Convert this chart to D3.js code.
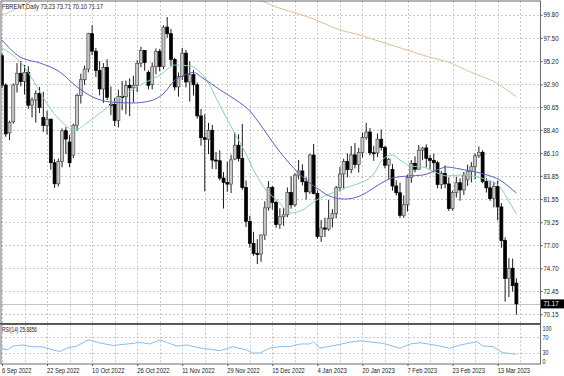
<!DOCTYPE html>
<html><head><meta charset="utf-8">
<script src="https://cdn.jsdelivr.net/npm/d3@7"></script>
<style>
html,body{margin:0;padding:0;background:#fff;}
svg{display:block;}
text{font-family:Tahoma,"Liberation Sans","DejaVu Sans",Arial,sans-serif;}
</style></head><body>
<svg id="c" width="564" height="376"></svg>
<script>
// ---------------- data ----------------
const symbolName = "FBRENT,Daily";
const lastQuote = ["73.23", "73.71", "70.10", "71.17"];
const lastPrice = 71.17;
const rsiTitle = "RSI(14) 25.8856";

const opens = [95.74,92.83,88.10,89.20,92.90,94.00,93.20,94.10,90.84,91.35,92.00,89.62,88.83,89.46,85.15,83.06,85.27,88.32,87.20,85.90,
88.86,91.80,93.37,94.42,97.92,96.19,94.29,92.45,94.57,90.93,90.92,89.33,91.71,91.68,92.80,92.56,92.82,94.99,96.26,94.10,
92.90,94.65,96.16,94.67,98.57,97.92,95.36,92.65,93.67,95.99,93.14,93.86,92.86,89.78,87.62,87.45,88.36,85.41,85.34,83.63,
83.19,83.03,85.50,86.88,85.57,82.68,79.35,77.17,76.15,76.10,77.99,80.68,82.70,81.21,79.04,79.80,79.99,82.20,80.98,83.92,
84.33,83.26,82.26,85.91,82.10,77.84,78.69,78.57,79.65,80.10,82.67,84.03,85.28,84.46,85.92,84.98,86.16,87.63,88.19,86.13,
86.12,87.47,86.66,84.90,84.49,82.84,82.17,79.94,80.99,83.69,85.09,84.50,86.39,86.61,85.58,85.38,85.14,83.00,84.07,83.05,
80.60,82.21,83.16,82.45,83.45,84.31,84.75,85.83,86.18,83.29,82.66,81.59,82.78,80.77,77.45,73.69,74.70,73.23];
const highs = [95.97,93.00,89.30,93.00,95.00,95.21,94.83,94.70,91.61,92.30,92.65,92.17,90.28,89.50,85.50,85.55,88.54,88.67,87.90,89.00,
91.99,93.96,94.76,98.01,98.75,96.50,95.20,95.00,95.38,92.71,91.58,92.39,93.23,93.28,93.49,93.76,95.32,96.63,96.30,94.30,
95.08,96.45,96.41,98.75,99.56,98.40,95.53,94.08,96.51,96.31,95.20,94.32,93.10,90.46,89.95,89.10,88.90,86.20,86.37,84.22,
85.25,85.95,88.14,87.97,88.98,83.37,79.90,78.31,77.58,78.04,81.34,83.32,82.85,81.38,80.63,80.67,82.69,83.80,84.10,85.42,
84.99,83.70,86.03,87.00,82.40,79.47,79.70,81.47,80.55,82.86,84.74,85.55,86.07,86.80,87.10,86.63,88.14,89.09,88.58,86.82,
88.04,88.44,86.83,85.62,85.00,83.40,83.17,81.92,83.96,85.40,85.78,86.90,86.71,86.97,85.91,86.03,85.33,84.32,84.89,83.70,
82.38,83.76,83.60,84.23,84.95,85.20,86.06,86.75,86.38,83.62,83.37,83.26,83.37,81.15,77.75,75.70,75.65,73.71];
const lows = [92.53,87.71,87.37,89.01,92.09,92.70,91.90,90.48,89.64,89.12,90.06,88.20,87.93,84.45,82.65,82.80,84.70,86.00,84.70,85.60,
88.32,91.00,92.86,94.10,95.80,93.63,91.82,91.07,91.35,89.85,88.78,88.65,90.35,89.94,89.75,91.11,92.13,94.61,94.25,92.40,
92.40,93.91,94.19,94.41,97.50,94.73,92.29,91.69,93.33,92.60,91.20,91.80,89.51,86.84,82.31,86.00,84.53,84.50,83.40,80.61,
82.27,82.15,85.40,85.26,82.46,78.78,76.72,75.93,75.11,75.34,77.50,80.40,80.50,78.70,78.60,78.90,79.75,80.60,80.80,83.50,
82.90,81.50,82.06,82.00,77.61,77.31,77.80,78.40,78.75,79.65,82.30,82.51,83.70,84.10,84.58,84.17,85.67,87.42,85.88,85.33,
85.70,86.35,84.59,83.51,82.38,81.90,79.66,79.69,80.32,83.16,84.20,84.49,85.40,84.67,84.50,84.18,82.61,82.55,82.62,80.37,
80.40,81.70,81.39,81.96,82.85,83.19,83.50,85.63,83.11,82.19,81.37,80.72,79.43,76.73,71.40,71.84,72.38,70.10];
const closes = [92.83,88.00,89.15,92.84,94.00,93.17,94.10,90.84,91.35,92.00,90.62,88.83,89.46,85.15,83.06,85.27,88.32,87.49,85.14,88.86,
91.80,93.37,94.42,97.92,96.19,94.29,92.45,94.57,91.63,90.92,89.33,91.71,91.68,92.80,92.56,92.82,94.99,96.26,95.07,92.81,
94.65,96.16,94.67,98.57,97.92,95.36,92.65,93.67,95.99,93.14,93.86,92.86,89.78,87.62,87.45,88.36,85.41,85.34,83.63,83.19,
83.03,85.43,86.88,85.57,82.68,79.35,77.17,76.15,76.10,77.99,80.68,82.70,81.21,79.04,79.80,79.99,82.20,80.98,83.92,84.33,
83.26,82.26,85.91,82.10,77.84,78.69,78.57,79.65,80.10,82.67,84.03,85.28,84.46,85.92,84.98,86.16,87.63,88.19,86.13,86.12,
87.47,86.66,84.90,85.46,82.84,82.17,79.94,80.99,83.69,85.09,84.50,86.39,86.61,85.58,85.38,85.14,83.00,84.07,83.05,80.60,
82.21,83.16,82.45,83.89,84.31,84.75,85.83,86.18,83.29,82.66,81.59,82.78,80.77,77.45,73.69,74.70,72.97,71.17];

const dateLabels = ["6 Sep 2022","22 Sep 2022","10 Oct 2022","26 Oct 2022","11 Nov 2022","29 Nov 2022",
  "15 Dec 2022","4 Jan 2023","20 Jan 2023","7 Feb 2023","23 Feb 2023","13 Mar 2023"];
const priceTicks = [99.80,97.50,95.20,92.90,90.65,88.40,86.10,83.85,81.55,79.25,77.00,74.70,72.45,70.15];
const rsiTicks = [100,70,30,0];
const rsiLevels = [70,30];

// moving averages: [bar, value]
const maFast = [[0,96.5],[3.5,95.6],[5.6,94.8],[8.3,93.3],[10.9,91.65],[12.8,90.56],[16.2,89.07],[19.4,88.38],[22.6,89.07],
 [26.1,90.07],[30.6,91.35],[36.8,92.84],[42.1,93.83],[46.1,94.82],[50.1,94.72],[52.7,94.13],[55.4,92.74],[58.1,90.76],
 [61.5,88.39],[64.7,86.21],[67.4,84.13],[70.3,82.44],[73.5,81.35],[76.7,80.17],[79.4,80.36],[84.2,81.55],[87.9,82.14],
 [91.3,82.64],[95.3,83.14],[98.8,83.93],[101.5,85.51],[103.9,85.91],[106,85.41],[108.7,84.82],[112.1,84.72],[114.8,84.32],
 [118.5,83.83],[122,83.93],[125.4,83.83],[129.2,83.43],[132.6,82.74],[135.3,81.15],[137,80.07]];
const maSlow = [[0,97.29],[4.8,95.61],[10.1,95.02],[15.4,94.13],[20,92.64],[24.2,91.65],[28.8,91.16],[34.9,91.06],
 [39.4,91.26],[42.9,91.95],[46.1,93.33],[48.7,93.83],[50.9,94.08],[53.5,93.53],[58.1,92.35],[62.3,91.35],[66,90.27],
 [69.8,88.39],[73.2,86.6],[76.7,85.02],[80.7,83.53],[84.2,82.54],[87.9,81.75],[91.3,81.55],[95.3,81.85],[98.8,82.6],
 [102,83.33],[103.9,83.63],[108.1,83.83],[112.1,83.93],[115.8,84.42],[118.5,84.72],[122,84.52],[125.4,84.28],
 [129.2,83.93],[132.6,83.43],[134.8,82.84],[137,82.14]];
const ma200 = [[0,99.75],[3.5,100.33],[7,101.0],[10,101.5],[25,102.1],[40,102.2],[55,101.9],[65,101.4],[69.5,101.09],
 [74,100.43],[78.6,99.94],[84.7,99.11],[90,98.29],[95.3,97.79],[98,97.46],[100.7,97.13],[107.9,96.3],[114,95.58],
 [118.5,95.15],[124.6,94.16],[131.8,93.01],[137,91.68]];
const rsiValues = [[0,42],[1.3,37],[2.9,47.5],[5.6,50],[7.5,46],[10.9,45],[13.6,37],[15.4,33],[17.3,42],[20,47.5],
 [22.6,61.7],[23.4,63],[26.1,55.3],[29.6,48.8],[33.3,52.7],[36.8,56.5],[39.4,52.7],[42.1,63],[44,56.5],[46.6,47.5],
 [49.3,50],[52.7,42.3],[58.1,35.3],[61.5,45.7],[65.2,37],[66.8,29.3],[68.7,29.3],[71.4,42.3],[74,45.7],[76.7,45.7],
 [79.4,52.7],[82,52.7],[82.8,58.6],[84.7,42.3],[86.6,45.7],[89.2,50],[91.9,56],[95.3,61.2],[98.8,57],[101.5,54.5],
 [106,41.5],[108.7,52.7],[111.3,56],[114,52],[116.6,47.5],[119.3,41.5],[122,50],[126.5,58.6],[128.1,47.5],
 [130.8,45.7],[133.4,30.1],[137,25.9]];

// ---------------- layout ----------------
const W = 564, H = 376;
const L = 1, R = 540.5, T = 1, MB = 323.5, RT = 324.5, RB = 364;
const nBars = closes.length;
const x = d3.scaleLinear().domain([0, nBars - 1]).range([2, 516.4]);
const y = d3.scaleLinear().domain([70.15, 99.80]).range([314.2, 14.7]);
const ry = d3.scaleLinear().domain([0, 100]).range([364.3, 325.75]);

const svg = d3.select("#c");
svg.append("rect").attr("width", W).attr("height", H).attr("fill", "#fff");

const defs = svg.append("defs");
defs.append("clipPath").attr("id", "mainClip").append("rect")
  .attr("x", L).attr("y", T).attr("width", R - L).attr("height", MB - T);
defs.append("clipPath").attr("id", "rsiClip").append("rect")
  .attr("x", L).attr("y", RT).attr("width", R - L).attr("height", RB - RT);

const gridColor = "#c9c9c9";
// vertical grid every 6 bars
const vIdx = d3.range(0, nBars + 2, 6);
const grid = svg.append("g").attr("stroke", gridColor).attr("stroke-width", 1).attr("stroke-dasharray", "2,2");
vIdx.forEach(i => {
  const xx = Math.round(x(i)) + 0.5;
  grid.append("line").attr("x1", xx).attr("x2", xx).attr("y1", T).attr("y2", MB);
  grid.append("line").attr("x1", xx).attr("x2", xx).attr("y1", RT).attr("y2", RB);
});
priceTicks.forEach(p => {
  const yy = Math.round(y(p)) + 0.5;
  grid.append("line").attr("x1", L).attr("x2", R).attr("y1", yy).attr("y2", yy);
});
rsiLevels.forEach(v => {
  const yy = Math.round(ry(v)) + 0.5;
  grid.append("line").attr("x1", L).attr("x2", R).attr("y1", yy).attr("y2", yy);
});

// last price line
svg.append("line").attr("x1", L).attr("x2", R)
  .attr("y1", Math.round(y(lastPrice)) + 0.5).attr("y2", Math.round(y(lastPrice)) + 0.5)
  .attr("stroke", "#c4c4c4").attr("stroke-width", 1);

// ---------------- main panel ----------------
const main = svg.append("g").attr("clip-path", "url(#mainClip)");

const lineGen = d3.line().x(d => x(d[0])).y(d => y(d[1])).curve(d3.curveMonotoneX);
main.append("path").datum(ma200).attr("d", lineGen)
  .attr("fill", "none").attr("stroke", "#e2bd97").attr("stroke-width", 1);

// candles
const bars = d3.range(nBars).map(i => ({i, o: opens[i], h: highs[i], l: lows[i], c: closes[i]}));
const cg = main.append("g");
const bw = 3;
bars.forEach(b => {
  const cx = x(b.i);
  cg.append("line").attr("x1", cx).attr("x2", cx).attr("y1", y(b.h)).attr("y2", y(b.l))
    .attr("stroke", "#1a1a1a").attr("stroke-width", 1);
  const top = y(Math.max(b.o, b.c)), bot = y(Math.min(b.o, b.c));
  const up = b.c >= b.o;
  cg.append("rect").attr("x", cx - bw / 2).attr("y", top)
    .attr("width", bw).attr("height", Math.max(1, bot - top))
    .attr("fill", up ? "#c6c6c6" : "#000")
    .attr("stroke", up ? "#4d4d4d" : "#000").attr("stroke-width", 0.7);
});

main.append("path").datum(maFast).attr("d", lineGen)
  .attr("fill", "none").attr("stroke", "#86d2b6").attr("stroke-width", 1);
main.append("path").datum(maSlow).attr("d", lineGen)
  .attr("fill", "none").attr("stroke", "#5f5fc8").attr("stroke-width", 1);

// ---------------- RSI panel ----------------
const rsiG = svg.append("g").attr("clip-path", "url(#rsiClip)");
rsiG.append("path").datum(rsiValues)
  .attr("d", d3.line().x(d => x(d[0])).y(d => ry(d[1])))
  .attr("fill", "none").attr("stroke", "#86bdec").attr("stroke-width", 1);

// ---------------- frames ----------------
svg.append("rect").attr("x", L - 0.5 + 0.5).attr("y", T - 0.5 + 0.5).attr("width", R - L).attr("height", MB - T)
  .attr("fill", "none").attr("stroke", "#6a6a6a").attr("stroke-width", 1);
svg.append("rect").attr("x", L).attr("y", RT).attr("width", R - L).attr("height", RB - RT)
  .attr("fill", "none").attr("stroke", "#6a6a6a").attr("stroke-width", 1);
svg.append("line").attr("x1", 0).attr("x2", R).attr("y1", 323.8).attr("y2", 323.8)
  .attr("stroke", "#555").attr("stroke-width", 1.6);

// ---------------- texts ----------------
const txtColor = "#1a1a1a";
svg.append("text").attr("x", 2).attr("y", 8.7)
  .attr("font-size", 7.5).attr("fill", txtColor)
  .attr("textLength", 101).attr("lengthAdjust", "spacingAndGlyphs")
  .text(symbolName + " " + lastQuote.join(" "));

svg.append("text").attr("x", 2).attr("y", 332.2)
  .attr("font-size", 7).attr("fill", txtColor)
  .attr("textLength", 35).attr("lengthAdjust", "spacingAndGlyphs")
  .text(rsiTitle);

// price axis
const yAxis = d3.axisRight(y).tickValues(priceTicks).tickFormat(d3.format(".2f")).tickSize(2).tickPadding(1);
const ya = svg.append("g").attr("transform", `translate(${R},0)`).call(yAxis);
ya.select(".domain").remove();
ya.selectAll(".tick line").attr("stroke", "#555");
ya.selectAll(".tick text").attr("font-size", 7).attr("fill", txtColor)
  .attr("font-family", null)
  .attr("textLength", 15).attr("lengthAdjust", "spacingAndGlyphs");

// RSI axis
const rAxis = d3.axisRight(ry).tickValues(rsiTicks).tickFormat(d3.format("d")).tickSize(0).tickPadding(2);
const ra = svg.append("g").attr("transform", `translate(${R},0)`).call(rAxis);
ra.select(".domain").remove();
ra.selectAll(".tick").attr("transform", d => `translate(0,${ry(d) + (d === 100 ? 3 : d === 0 ? -3 : 0)})`);
ra.selectAll(".tick text").attr("font-size", 7).attr("fill", txtColor).attr("font-family", null)
  .attr("textLength", d => String(d).length * 3).attr("lengthAdjust", "spacingAndGlyphs");

// current price box
const yp = y(lastPrice);
svg.append("rect").attr("x", R + 0.5).attr("y", yp - 4.5).attr("width", 23).attr("height", 9).attr("fill", "#000");
svg.append("text").attr("x", R + 3).attr("y", yp).attr("dy", "0.32em")
  .attr("font-size", 7).attr("fill", "#fff")
  .attr("textLength", 15).attr("lengthAdjust", "spacingAndGlyphs")
  .text(d3.format(".2f")(lastPrice));

// date axis
const tickIdx = dateLabels.map((d, k) => k * 12);
const xAxis = d3.axisBottom(x).tickValues(tickIdx).tickFormat((d, k) => dateLabels[k]).tickSize(2).tickPadding(1);
const xa = svg.append("g").attr("transform", `translate(0,${RB})`).call(xAxis);
xa.select(".domain").remove();
xa.selectAll(".tick line").attr("stroke", "#555");
xa.selectAll(".tick text").attr("font-size", 8).attr("fill", txtColor).attr("font-family", null)
  .attr("text-anchor", "start").attr("x", -0.5)
  .attr("textLength", (d, k) => dateLabels[k].length * 2.95).attr("lengthAdjust", "spacingAndGlyphs");
svg.selectAll("text").style("font-family", 'Tahoma,"Liberation Sans","DejaVu Sans",Arial,sans-serif');
</script>
</body></html>
